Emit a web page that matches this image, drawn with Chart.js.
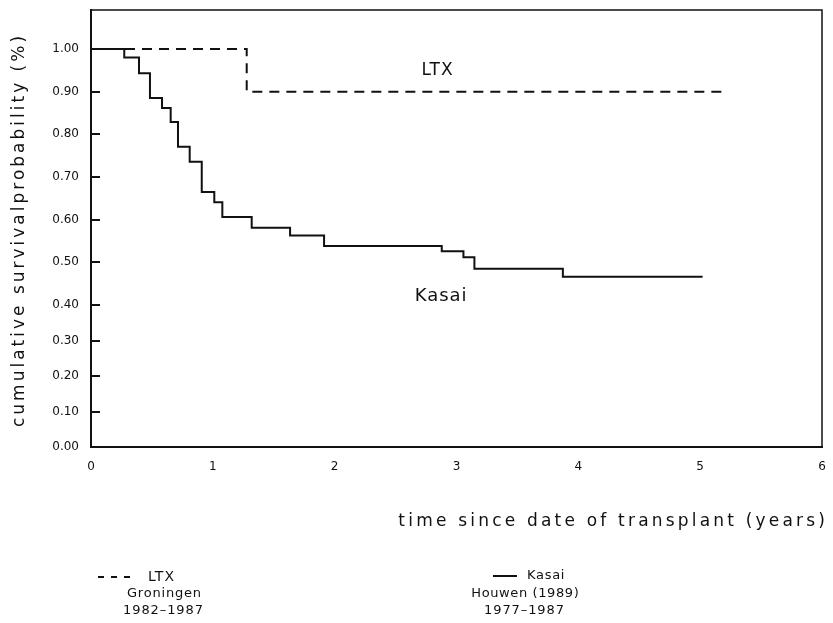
<!DOCTYPE html>
<html>
<head>
<meta charset="utf-8">
<script src="https://cdn.jsdelivr.net/npm/chart.js@4.4.0/dist/chart.umd.min.js"></script>
<style>
  html, body { margin: 0; padding: 0; background: #fff; }
  #wrap { width: 833px; height: 623px; }
</style>
</head>
<body>
<div id="wrap"><canvas id="c" width="833" height="623"></canvas></div>
<script>
// Kaplan-Meier steps: time (years) at which the survival estimate changes, and the new estimate
const kasaiYears    = [0, 0.273, 0.394, 0.484, 0.583, 0.654, 0.714, 0.810, 0.909, 1.012, 1.078, 1.319, 1.634, 1.913, 2.879, 3.057, 3.147, 3.873, 5.02];
const kasaiSurvival = [1.00, 0.980, 0.943, 0.885, 0.862, 0.829, 0.771, 0.736, 0.665, 0.641, 0.606, 0.581, 0.563, 0.538, 0.526, 0.512, 0.485, 0.466, 0.466];

const ltxYears    = [0, 1.278, 5.2];
const ltxSurvival = [1.00, 0.90, 0.90];

const xTickValues = [0, 1, 2, 3, 4, 5, 6];
const yTickValues = [0, 0.1, 0.2, 0.3, 0.4, 0.5, 0.6, 0.7, 0.8, 0.9, 1.0];

// The printed survival axis is not evenly spaced: the band below 0.40 is
// tighter than the band above it. Knots: axis value -> fraction of plot height.
const yKnotValues    = [0, 0.4, 1.0, 1.1];
const yKnotFractions = [0, 142 / 437, 398 / 437, 1];

const toPoints = (xs, ys) => xs.map((x, i) => ({ x: x, y: ys[i] }));

function interp(v, from, to) {
  if (v <= from[0]) return to[0] + (v - from[0]) * (to[1] - to[0]) / (from[1] - from[0]);
  for (let i = 1; i < from.length; i++) {
    if (v <= from[i]) {
      const t = (v - from[i - 1]) / (from[i] - from[i - 1]);
      return to[i - 1] + t * (to[i] - to[i - 1]);
    }
  }
  const n = from.length - 1;
  return to[n] + (v - from[n]) * (to[n] - to[n - 1]) / (from[n] - from[n - 1]);
}

class PiecewiseScale extends Chart.LinearScale {
  getPixelForValue(value) {
    if (value === null || value === undefined || isNaN(value)) return NaN;
    return this.getPixelForDecimal(interp(value, yKnotValues, yKnotFractions));
  }
  getValueForPixel(pixel) {
    return interp(this.getDecimalForPixel(pixel), yKnotFractions, yKnotValues);
  }
}
PiecewiseScale.id = 'piecewise';
PiecewiseScale.defaults = Chart.LinearScale.defaults;
Chart.register(PiecewiseScale);

const INK = '#111';
const FONT = '"DejaVu Sans", "Liberation Sans", sans-serif';

// draw text with extra spacing between letters
function spacedText(ctx, text, x, y, size, spacing, align) {
  ctx.save();
  ctx.font = size + 'px ' + FONT;
  ctx.letterSpacing = spacing + 'px';
  ctx.textBaseline = 'middle';
  ctx.textAlign = 'left';
  ctx.fillStyle = INK;
  const w = ctx.measureText(text).width - spacing;
  let x0 = x;
  if (align === 'center') x0 = x - w / 2;
  else if (align === 'right') x0 = x - w;
  ctx.fillText(text, x0, y);
  ctx.restore();
}

const decorations = {
  id: 'decorations',
  afterDraw(chart) {
    const ctx = chart.ctx;
    const area = chart.chartArea;
    const sx = chart.scales.x, sy = chart.scales.y;

    // top and right edges of the plot frame
    ctx.save();
    ctx.strokeStyle = INK;
    ctx.lineWidth = 1.5;
    ctx.beginPath();
    ctx.moveTo(area.left, area.top);
    ctx.lineTo(area.right, area.top);
    ctx.lineTo(area.right, area.bottom);
    ctx.stroke();
    ctx.restore();

    // curve labels inside the plot
    spacedText(ctx, 'LTX', sx.getPixelForValue(2.84), sy.getPixelForValue(0.95), 17, 1, 'center');
    spacedText(ctx, 'Kasai', sx.getPixelForValue(2.87), sy.getPixelForValue(0.42), 18, 1, 'center');

    // y axis title
    ctx.save();
    ctx.translate(20, (area.top + area.bottom) / 2 + 3);
    ctx.rotate(-Math.PI / 2);
    spacedText(ctx, 'cumulative survivalprobability (%)', 0, 0, 17, 3.0, 'center');
    ctx.restore();

    // x axis title
    spacedText(ctx, 'time since date of transplant (years)', 825, 522, 17, 3.2, 'right');

    // legend
    ctx.save();
    ctx.strokeStyle = INK;
    ctx.lineWidth = 2;
    ctx.setLineDash([6, 7]);
    ctx.beginPath();
    ctx.moveTo(98, 577);
    ctx.lineTo(131, 577);
    ctx.stroke();
    ctx.setLineDash([]);
    ctx.beginPath();
    ctx.moveTo(493, 576);
    ctx.lineTo(517, 576);
    ctx.stroke();
    ctx.restore();

    spacedText(ctx, 'LTX', 148, 577, 14, 1, 'left');
    spacedText(ctx, 'Groningen', 164, 594, 13, 0.8, 'center');
    spacedText(ctx, '1982\u20131987', 163, 611, 13, 0.9, 'center');

    spacedText(ctx, 'Kasai', 527, 576, 13, 0.7, 'left');
    spacedText(ctx, 'Houwen (1989)', 525, 594, 13, 0.6, 'center');
    spacedText(ctx, '1977\u20131987', 524, 611, 13, 0.9, 'center');
  }
};

new Chart(document.getElementById('c'), {
  type: 'line',
  data: {
    datasets: [
      {
        label: 'Kasai',
        data: toPoints(kasaiYears, kasaiSurvival),
        stepped: 'before',
        borderColor: INK,
        borderWidth: 2,
        pointRadius: 0,
        fill: false
      },
      {
        label: 'LTX',
        data: toPoints(ltxYears, ltxSurvival),
        stepped: 'before',
        borderColor: INK,
        borderWidth: 2,
        borderDash: [10, 7],
        pointRadius: 0,
        fill: false
      }
    ]
  },
  options: {
    responsive: false,
    animation: false,
    devicePixelRatio: 1,
    layout: { padding: { left: 0, right: 11, top: 10, bottom: 0 } },
    plugins: {
      legend: { display: false },
      tooltip: { enabled: false }
    },
    scales: {
      x: {
        type: 'linear',
        min: 0,
        max: 6,
        afterBuildTicks: (s) => { s.ticks = xTickValues.map(v => ({ value: v })); },
        afterFit: (s) => { s.height = 176; s.paddingLeft = 0; s.paddingRight = 0; },
        ticks: {
          color: INK,
          font: { family: FONT, size: 12 },
          padding: 13,
          maxRotation: 0,
          callback: (v) => String(v)
        },
        grid: { drawOnChartArea: false, drawTicks: false },
        border: { display: true, color: INK, width: 2 }
      },
      y: {
        type: 'piecewise',
        min: 0,
        max: 1.1,
        afterBuildTicks: (s) => { s.ticks = yTickValues.map(v => ({ value: v })); },
        afterFit: (s) => { s.width = 91; s.paddingTop = 0; s.paddingBottom = 0; },
        ticks: {
          color: INK,
          font: { family: FONT, size: 12 },
          padding: 21,
          callback: (v) => Number(v).toFixed(2)
        },
        grid: { drawOnChartArea: false, drawTicks: true, tickLength: -9, color: INK, lineWidth: 2 },
        border: { display: true, color: INK, width: 2 }
      }
    }
  },
  plugins: [decorations]
});
</script>
</body>
</html>
